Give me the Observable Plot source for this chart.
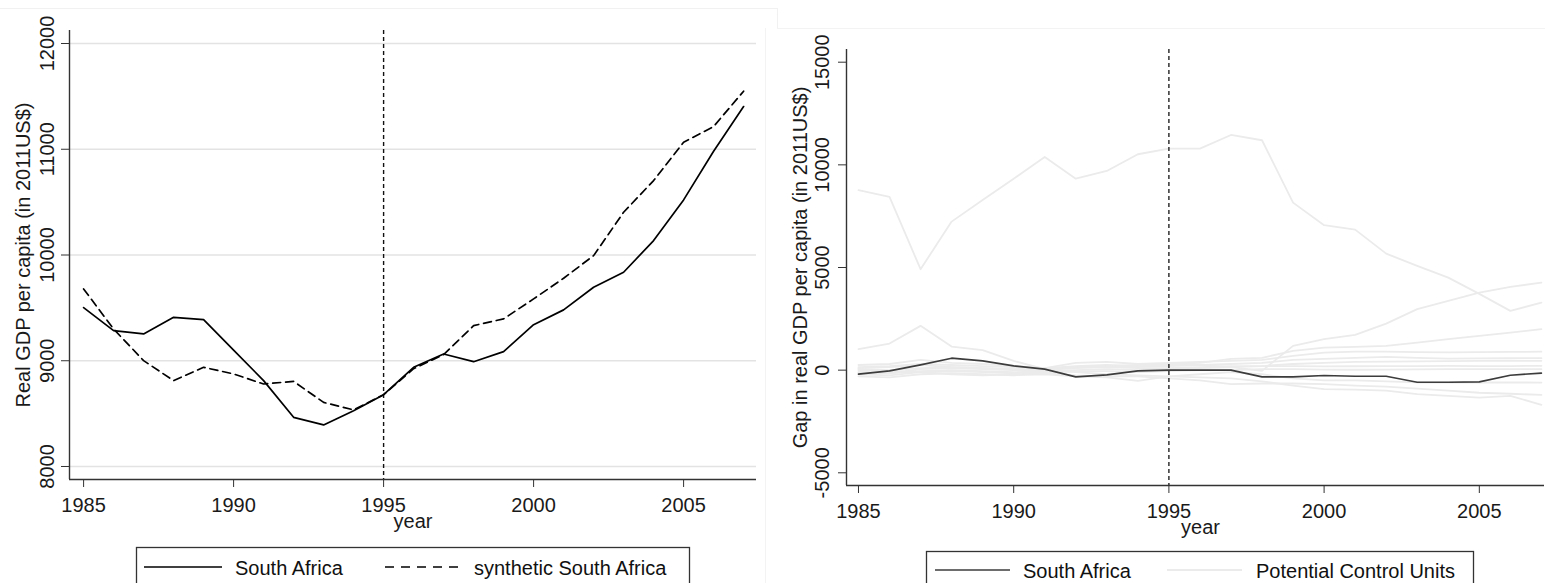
<!DOCTYPE html>
<html>
<head>
<meta charset="utf-8">
<script src="https://cdn.jsdelivr.net/npm/d3@7"></script>
<script src="https://cdn.jsdelivr.net/npm/@observablehq/plot@0.6"></script>
<style>
html, body { margin: 0; padding: 0; background: #fff; overflow: hidden; }
#wrap { position: relative; width: 1545px; height: 583px; font-family: "Liberation Sans", Arial, sans-serif; }
.panel { position: absolute; top: 0; }
#overlay { position: absolute; left: 0; top: 0; pointer-events: none; }
</style>
</head>
<body>
<div id="wrap">
  <div id="left" class="panel" style="left:0px"></div>
  <div id="right" class="panel" style="left:775px"></div>
</div>
<script>
// ---------- data ----------
const years = [1985, 1986, 1987, 1988, 1989, 1990, 1991, 1992, 1993, 1994, 1995, 1996,
               1997, 1998, 1999, 2000, 2001, 2002, 2003, 2004, 2005, 2006, 2007];

const southAfrica = [9503, 9285, 9254, 9411, 9389, 9100, 8812, 8465, 8393, 8528, 8679, 8938,
                     9064, 8991, 9086, 9341, 9481, 9695, 9837, 10136, 10521, 10981, 11404];
const syntheticSouthAfrica = [9679, 9300, 9001, 8812, 8938, 8875, 8780, 8805, 8606, 8535, 8679, 8925,
                              9058, 9332, 9396, 9585, 9780, 9994, 10404, 10704, 11066, 11215, 11549];

const gapSouthAfrica = [-195, -34, 258, 584, 453, 209, 49, -326, -229, -34, 0, 0,
                        0, -326, -326, -262, -300, -300, -587, -587, -570, -245, -146];

const control1  = [8763, 8437, 4917, 7235, 8291, 9328, 10384, 9328, 9703, 10516, 10789, 10789, 11456, 11198, 8160, 7059, 6845, 5677, 5078, 4508, 3715, 2887, 3291];
const control2  = [150, 200, 300, 250, 200, 150, 100, 200, 250, 200, 250, 250, 150, -34, 1183, 1509, 1719, 2269, 2970, 3374, 3778, 4056, 4265];
const control3  = [1022, 1295, 2157, 1149, 973, 450, 50, 150, 200, 250, 300, 350, 550, 600, 940, 1100, 1134, 1183, 1344, 1509, 1670, 1831, 1996];
const control4  = [250, 300, 500, 350, 300, 200, 100, 350, 400, 300, 350, 400, 450, 500, 700, 850, 900, 900, 880, 870, 880, 890, 900];
const control5  = [100, 150, 250, 150, 100, 50, 50, 150, 200, 150, 200, 250, 300, 350, 500, 550, 600, 650, 600, 560, 570, 580, 584];
const control6  = [-100, -150, 50, 100, 50, 0, -50, 0, 50, 0, 50, 100, 150, 200, 300, 350, 400, 420, 430, 440, 450, 450, 453];
const control7  = [50, 0, 100, 150, 100, 50, 0, 100, 150, 100, 100, 150, 200, 200, 200, 180, 190, 200, 200, 210, 200, 200, 209];
const control8  = [-200, -250, -100, -50, -100, -150, -100, -50, -50, -100, -50, 0, 0, 50, 50, 30, 20, 30, 40, 50, 50, 50, 49];
const control9  = [-300, -350, -200, -150, -200, -250, -200, -300, -350, -520, -300, -200, -100, -200, -400, -500, -500, -550, -600, -600, -600, -600, -603];
const control10 = [0, -50, -100, -200, -250, -200, -150, -250, -300, -300, -400, -500, -680, -650, -650, -680, -750, -800, -900, -1000, -1100, -1150, -1203];
const control11 = [-100, -150, -50, 0, -50, -100, -50, -100, -200, -250, -300, -350, -400, -550, -750, -925, -950, -1000, -1168, -1250, -1334, -1251, -1690];

const controlUnits = [control1, control2, control3, control4, control5, control6,
                      control7, control8, control9, control10, control11];

const xTicks = [1985, 1990, 1995, 2000, 2005];
const leftYTicks = [8000, 9000, 10000, 11000, 12000];
const rightYTicks = [-5000, 0, 5000, 10000, 15000];
const treatmentYear = [1995];

const leftTitle = "Real GDP per capita (in 2011US$)";
const rightTitle = "Gap in real GDP per capita (in 2011US$)";
const xTitle = "year";

// ---------- tables ----------
const leftData = years.map((year, i) => ({year, sa: southAfrica[i], syn: syntheticSouthAfrica[i]}));
const gapData = years.map((year, i) => ({year, gap: gapSouthAfrica[i]}));
const controlData = controlUnits.flatMap((arr, k) => arr.map((v, i) => ({unit: k, year: years[i], gap: v})));

const font = "'Liberation Sans', Arial, sans-serif";
const fmt = d => String(d);

// ---------- left panel ----------
const xDomL = [1984.53, 2007.43];
const yDomL = [7877, 12123];
const left = Plot.plot({
  width: 775, height: 540,
  marginLeft: 69, marginRight: 19, marginTop: 30, marginBottom: 61,
  x: {domain: xDomL},
  y: {domain: yDomL},
  style: {fontFamily: font, color: "#1a1a1a", background: "transparent", overflow: "visible"},
  marks: [
    Plot.gridY(leftYTicks, {stroke: "#e3e3e3", strokeOpacity: 1, strokeWidth: 1.5}),
    Plot.ruleX(treatmentYear, {stroke: "#111", strokeWidth: 1.4, strokeDasharray: "4,3"}),
    Plot.line(leftData, {x: "year", y: "sa", stroke: "#000", strokeWidth: 1.7}),
    Plot.line(leftData, {x: "year", y: "syn", stroke: "#000", strokeWidth: 1.7, strokeDasharray: "8,5"}),
    Plot.ruleX([xDomL[0]], {stroke: "#333", strokeWidth: 1.4}),
    Plot.ruleY([yDomL[0]], {stroke: "#333", strokeWidth: 1.4}),
    Plot.axisY(leftYTicks, {anchor: "left", tickSize: 8, tickRotate: -90, tickPadding: 8, tickFormat: fmt, label: null, fontSize: 20, stroke: "#333"}),
    Plot.axisX(xTicks, {anchor: "bottom", tickSize: 8, tickPadding: 10, tickFormat: fmt, label: null, fontSize: 20, stroke: "#333"}),
    Plot.text([leftTitle], {text: d => d, frameAnchor: "left", textAnchor: "middle", rotate: -90, dx: -46, fontSize: 20, fill: "#1a1a1a"}),
    Plot.text([xTitle], {text: d => d, frameAnchor: "bottom", textAnchor: "middle", dy: 48, fontSize: 20, fill: "#1a1a1a"})
  ]
});
document.getElementById("left").appendChild(left);

// ---------- right panel ----------
const xDomR = [1984.614, 2007.1];
const yDomR = [-5618, 15618];
const right = Plot.plot({
  width: 770, height: 545,
  marginLeft: 71, marginRight: 1, marginTop: 49, marginBottom: 60,
  x: {domain: xDomR},
  y: {domain: yDomR},
  style: {fontFamily: font, color: "#1a1a1a", background: "transparent", overflow: "visible"},
  marks: [
    Plot.line(controlData, {x: "year", y: "gap", z: "unit", stroke: "#ebebeb", strokeWidth: 1.8}),
    Plot.ruleX(treatmentYear, {stroke: "#222", strokeWidth: 1.4, strokeDasharray: "4,3"}),
    Plot.line(gapData, {x: "year", y: "gap", stroke: "#3c3c3c", strokeWidth: 1.6}),
    Plot.ruleX([xDomR[0]], {stroke: "#333", strokeWidth: 1.4}),
    Plot.ruleY([yDomR[0]], {stroke: "#333", strokeWidth: 1.4}),
    Plot.axisY(rightYTicks, {anchor: "left", tickSize: 8, tickRotate: -90, tickPadding: 10, tickFormat: fmt, label: null, fontSize: 20, stroke: "#333"}),
    Plot.axisX(xTicks, {anchor: "bottom", tickSize: 8, tickPadding: 10, tickFormat: fmt, label: null, fontSize: 20, stroke: "#333"}),
    Plot.text([rightTitle], {text: d => d, frameAnchor: "left", textAnchor: "middle", rotate: -90, dx: -46, fontSize: 20, fill: "#1a1a1a"}),
    Plot.text([xTitle], {text: d => d, frameAnchor: "bottom", textAnchor: "middle", dx: 5, dy: 48, fontSize: 20, fill: "#1a1a1a"})
  ]
});
document.getElementById("right").appendChild(right);

// ---------- legends (below the plots) ----------
const ns = "http://www.w3.org/2000/svg";
const ov = document.createElementNS(ns, "svg");
ov.setAttribute("id", "overlay");
ov.setAttribute("width", 1545);
ov.setAttribute("height", 583);
ov.style.fontFamily = font;
function el(tag, attrs, txt) {
  const e = document.createElementNS(ns, tag);
  for (const k in attrs) e.setAttribute(k, attrs[k]);
  if (txt) e.textContent = txt;
  ov.appendChild(e);
  return e;
}
// faint graph-region borders
el("line", {x1: 0, y1: 8.5, x2: 777, y2: 8.5, stroke: "#f1f1f1", "stroke-width": 1});
el("line", {x1: 777.5, y1: 8, x2: 777.5, y2: 28, stroke: "#f1f1f1", "stroke-width": 1});
el("line", {x1: 777, y1: 28.5, x2: 1545, y2: 28.5, stroke: "#f3f3f3", "stroke-width": 1});
el("line", {x1: 765.5, y1: 28, x2: 765.5, y2: 583, stroke: "#f3f3f3", "stroke-width": 1});

// left legend
el("rect", {x: 136.5, y: 547.5, width: 553, height: 60, fill: "#fff", stroke: "#333", "stroke-width": 1.3});
el("line", {x1: 144, y1: 567, x2: 222, y2: 567, stroke: "#000", "stroke-width": 1.7});
el("text", {x: 235, y: 575, "font-size": 20, fill: "#111"}, "South Africa");
el("line", {x1: 385, y1: 567, x2: 463, y2: 567, stroke: "#000", "stroke-width": 1.7, "stroke-dasharray": "9,7"});
el("text", {x: 474, y: 575, "font-size": 20, fill: "#111"}, "synthetic South Africa");

// right legend
el("rect", {x: 926.5, y: 551.5, width: 547, height: 60, fill: "#fff", stroke: "#333", "stroke-width": 1.3});
el("line", {x1: 935, y1: 570, x2: 1010, y2: 570, stroke: "#3c3c3c", "stroke-width": 1.7});
el("text", {x: 1023, y: 578, "font-size": 20, fill: "#111"}, "South Africa");
el("line", {x1: 1167, y1: 570, x2: 1242, y2: 570, stroke: "#ebebeb", "stroke-width": 2});
el("text", {x: 1256, y: 578, "font-size": 20, fill: "#111"}, "Potential Control Units");

document.getElementById("wrap").appendChild(ov);
</script>
</body>
</html>
